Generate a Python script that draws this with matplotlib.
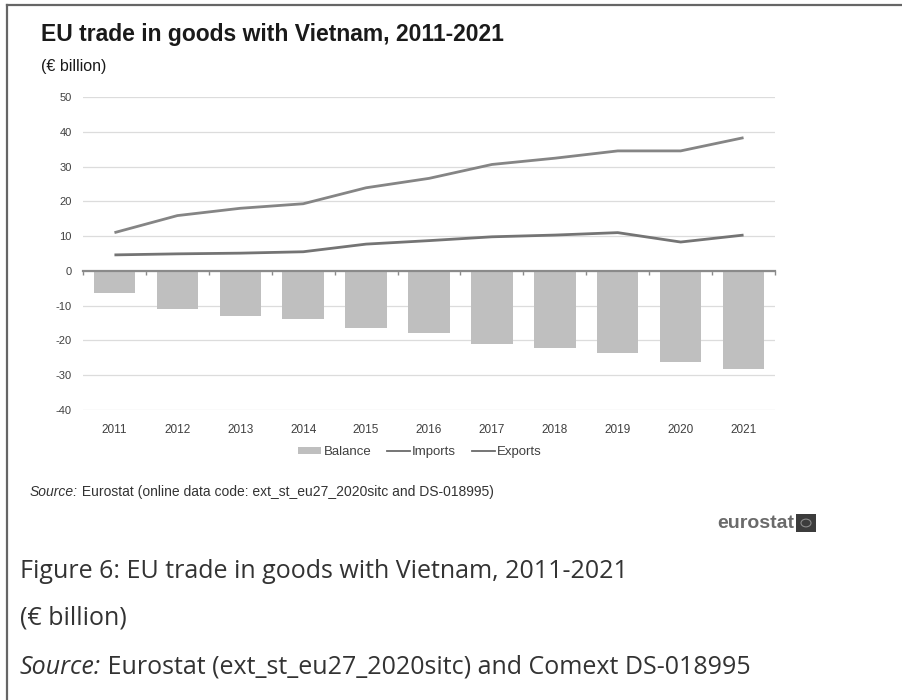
import matplotlib
matplotlib.use("Agg")
import matplotlib.pyplot as plt
from matplotlib.lines import Line2D
from matplotlib.patches import Patch, Rectangle, Circle
import numpy as np

# ---------------- data ----------------
years = ["2011", "2012", "2013", "2014", "2015", "2016", "2017", "2018", "2019", "2020", "2021"]
imports = [11.0, 15.9, 18.0, 19.3, 23.9, 26.6, 30.6, 32.4, 34.5, 34.5, 38.3]
exports = [4.6, 4.9, 5.1, 5.5, 7.7, 8.7, 9.8, 10.3, 11.0, 8.3, 10.3]
balance = [-6.5, -11.1, -12.9, -13.9, -16.4, -18.0, -21.0, -22.3, -23.6, -26.1, -28.2]
yticks = [-40, -30, -20, -10, 0, 10, 20, 30, 40, 50]
series_names = ["Balance", "Imports", "Exports"]

W, H = 903, 700
fig = plt.figure(figsize=(W / 100, H / 100), dpi=100)
fig.patch.set_facecolor("white")


def fx(px):
    return px / W


def fy(py):
    return 1 - py / H


SANS = ["Liberation Sans", "DejaVu Sans"]
OPEN = ["Open Sans", "DejaVu Sans"]

# ---------------- axes ----------------
ax = fig.add_axes([fx(83), fy(410), fx(775) - fx(83), fy(97) - fy(410)])
x = np.arange(len(years))
bar_c = "#bfbfbf"
imp_c = "#858585"
exp_c = "#747474"
ax.bar(x, balance, width=0.66, color=bar_c, zorder=2)
ax.plot(x, imports, color=imp_c, lw=2.0, zorder=3, solid_capstyle="butt")
ax.plot(x, exports, color=exp_c, lw=2.0, zorder=3, solid_capstyle="butt")
ax.set_xlim(-0.5, len(years) - 0.5)
ax.set_ylim(yticks[0], yticks[-1])
ax.set_yticks(yticks)
ax.set_yticklabels([str(v) for v in yticks], fontfamily=SANS)
ax.grid(axis="y", color="#dcdcdc", lw=0.9, zorder=0)
ax.set_axisbelow(True)
for side in ["top", "left", "right"]:
    ax.spines[side].set_visible(False)
# zero line with category separators
ax.spines["bottom"].set_position(("data", 0))
ax.spines["bottom"].set_color("#8a8a8a")
ax.spines["bottom"].set_linewidth(1.6)
ax.spines["bottom"].set_zorder(4)
ax.set_xticks(x)
ax.set_xticklabels([])
ax.set_xticks(np.arange(len(years) + 1) - 0.5, minor=True)
ax.tick_params(axis="x", which="major", length=0)
ax.tick_params(axis="x", which="minor", length=3, width=1, color="#8a8a8a", direction="out")
ax.tick_params(axis="y", length=0, labelsize=8, labelcolor="#404040", pad=8)

sec = ax.secondary_xaxis("bottom")
sec.set_xticks(x)
sec.set_xticklabels(years, fontfamily=SANS)
sec.tick_params(length=0, labelsize=8.5, labelcolor="#404040", pad=10)
sec.spines["bottom"].set_visible(False)

# ---------------- legend ----------------
handles = [
    Patch(facecolor=bar_c, edgecolor="none"),
    Line2D([], [], color="#6a6a6a", lw=1.3),
    Line2D([], [], color="#6a6a6a", lw=1.3),
]
fig.legend(handles, series_names, loc="center", bbox_to_anchor=(fx(420), fy(452)),
           ncol=3, frameon=False, prop={"family": SANS, "size": 9.5},
           handlelength=1.75, handleheight=0.4, handletextpad=0.15, columnspacing=1.2,
           labelcolor="#404040")

# ---------------- texts ----------------
fig.text(fx(41), fy(40.5), "EU trade in goods with Vietnam, 2011-2021", fontsize=16.5,
         fontweight="bold", family=SANS, color="#1a1a1a", va="baseline")
fig.text(fx(41), fy(67), "(€ billion)", fontsize=11.5, family=SANS, color="#1a1a1a", va="center")

fig.canvas.draw()
r = fig.canvas.get_renderer()


def two_part(xp, yp, italic, rest, size, fam, color):
    t1 = fig.text(fx(xp), fy(yp), italic, fontsize=size, family=fam, style="italic",
                  color=color, va="center")
    bb = t1.get_window_extent(renderer=r)
    fig.text(bb.x1 / W, fy(yp), rest, fontsize=size, family=fam, color=color, va="center")


two_part(30, 492, "Source:", " Eurostat (online data code: ext_st_eu27_2020sitc and DS-018995)",
         10, SANS, "#333333")

# eurostat logo
fig.text(fx(794), fy(523), "eurostat", fontsize=14, fontweight="bold", family=SANS,
         color="#6a6a6a", ha="right", va="center")
fig.add_artist(Rectangle((fx(796), fy(532)), fx(816) - fx(796), fy(514) - fy(532),
                         transform=fig.transFigure, facecolor="#3c3c3c", edgecolor="none"))
fig.add_artist(Circle((fx(806), fy(523)), radius=fx(5), transform=fig.transFigure,
                      facecolor="none", edgecolor="#8a8a8a", lw=0.8))

# caption
fig.text(fx(20), fy(572), "Figure 6: EU trade in goods with Vietnam, 2011-2021", fontsize=18,
         family=OPEN, color="#333333", va="center")
fig.text(fx(20), fy(618), "(€ billion)", fontsize=18, family=OPEN, color="#333333", va="center")
two_part(20, 667, "Source:", " Eurostat (ext_st_eu27_2020sitc) and Comext DS-018995", 18, OPEN, "#333333")

# border
fig.add_artist(Line2D([fx(7), fx(7)], [0, fy(5)], transform=fig.transFigure, color="#666666", lw=1.6))
fig.add_artist(Line2D([fx(7), 1], [fy(5), fy(5)], transform=fig.transFigure, color="#666666", lw=1.6))

fig.savefig("out.png", dpi=100, facecolor="white")
